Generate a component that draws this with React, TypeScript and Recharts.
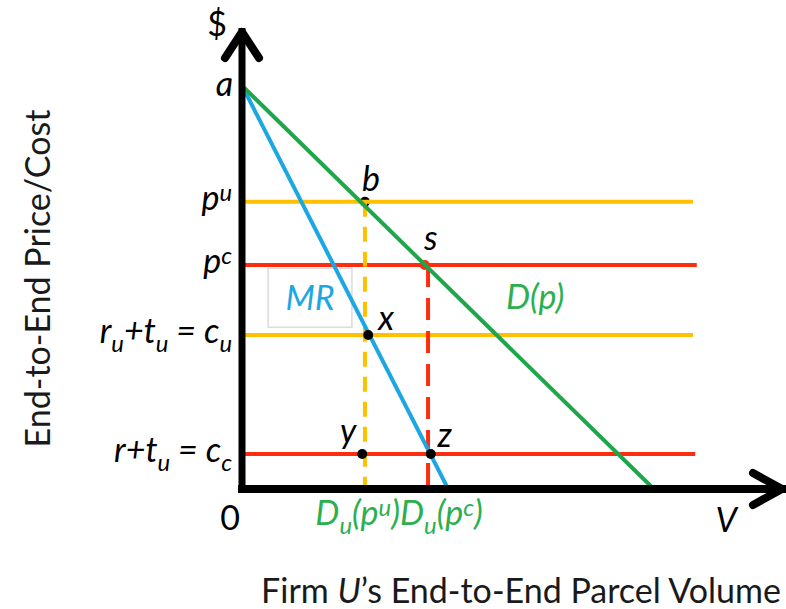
import React from 'react';
import { ComposedChart, Line, Scatter, XAxis, YAxis, ReferenceArea, ReferenceDot, Label } from 'recharts';

// ---------------- data ----------------
const demandVolumes = [0, 75.7];
const demandPrices = [87.5, 0];
const mrVolumes = [0, 37.9];
const mrPrices = [87.5, 0];

const levelNames = ['pu', 'pc', 'cu', 'cc'];
const levelPrices = [62.3, 48.6, 33.4, 7.6];
const levelEndVolumes = [82.9, 83.6, 82.9, 83.3];

const yTickValues = [100, 87.5, 62.3, 48.6, 33.4, 7.6];
const yTickLabels = ['$', 'a', 'p^u', 'p^c', 'r_u+t_u = c_u', 'r+t_u = c_c'];

const dropNames = ['pu', 'pc'];
const dropVolumes = [22.6, 34.2];
const dropTopPrices = [62.3, 48.6];

const xTickValues = [0, 22.6, 34.2, 89];
const xTickLabels = ['0', 'D_u(p^u)', 'D_u(p^c)', 'V'];

const pointNames = ['b', 's', 'x', 'y', 'z'];
const pointVolumes = [22.6, 33.6, 23.2, 22.1, 34.7];
const pointPrices = [62.3, 48.6, 33.4, 7.6, 7.6];

const mrBoxVolumes = [4.8, 20.2];
const mrBoxPrices = [35.1, 47.9];
const demandLabelVolume = 53.9;
const demandLabelPrice = 41.6;

// ---------------- styles ----------------
const FONT = "Lato, 'Open Sans', sans-serif";
const MATH = 34;
const TITLE = 34;
const GOLD = '#ffc000';
const RED = '#ff2d0f';
const GREEN = '#1fa64b';
const GREEN_TEXT = '#2cb04f';
const BLUE = '#1ca7e3';

const LEVEL_COLORS: Record<string, string> = { pu: GOLD, pc: RED, cu: GOLD, cc: RED };
const DROP_DASH: Record<string, string> = { pu: '15 10', pc: '22 11' };
const POINT_STYLE: Record<string, { dot: string | null; dx: number; dy: number }> = {
  b: { dot: '#000', dx: 6, dy: -11 },
  s: { dot: RED, dx: 6, dy: -15 },
  x: { dot: '#000', dx: 18, dy: -5 },
  y: { dot: '#000', dx: -14, dy: -11 },
  z: { dot: '#000', dx: 14, dy: -7 },
};
const UNDER_POINTS = ['b', 's'];

const Y_TICK_STYLE: Record<string, { dx: number; dy: number; anchor: string; italic: boolean }> = {
  $: { dx: -15, dy: 8, anchor: 'middle', italic: false },
  a: { dx: 1, dy: 10, anchor: 'end', italic: true },
};
const Y_TICK_DEFAULT = { dx: 0, dy: 8, anchor: 'end', italic: true };

const X_TICK_STYLE: Record<string, { dx: number; dy: number; anchor: string; italic: boolean; color: string }> = {
  '0': { dx: -12, dy: 41, anchor: 'middle', italic: false, color: '#000' },
  'D_u(p^u)': { dx: 35, dy: 36, anchor: 'end', italic: true, color: GREEN_TEXT },
  'D_u(p^c)': { dx: -28, dy: 36, anchor: 'start', italic: true, color: GREEN_TEXT },
  V: { dx: 0, dy: 43, anchor: 'middle', italic: true, color: '#000' },
};

// ---------------- derived tables ----------------
const demandData = demandVolumes.map((v, i) => ({ v, p: demandPrices[i] }));
const mrData = mrVolumes.map((v, i) => ({ v, p: mrPrices[i] }));
const levelSeries = levelNames.map((name, i) => ({
  name,
  data: [
    { v: 0, p: levelPrices[i] },
    { v: levelEndVolumes[i], p: levelPrices[i] },
  ],
}));
const dropSeries = dropNames.map((name, i) => ({
  name,
  data: [
    { v: dropVolumes[i], p: dropTopPrices[i] },
    { v: dropVolumes[i], p: 0 },
  ],
}));
const pointData = pointNames.map((name, i) => ({ name, v: pointVolumes[i], p: pointPrices[i] }));
const underPoints = pointData.filter((d) => UNDER_POINTS.includes(d.name));
const overPoints = pointData.filter((d) => !UNDER_POINTS.includes(d.name));

// ---------------- helpers ----------------
function mathSpans(src: string, size: number) {
  const segs: { t: string; lvl: number }[] = [];
  for (let i = 0; i < src.length; i++) {
    const c = src[i];
    if ((c === '^' || c === '_') && i + 1 < src.length) {
      segs.push({ t: src[i + 1], lvl: c === '^' ? 1 : -1 });
      i++;
    } else {
      const last = segs[segs.length - 1];
      if (last && last.lvl === 0) last.t += c;
      else segs.push({ t: c, lvl: 0 });
    }
  }
  let cur = 0;
  return segs.map((s, k) => {
    const target = s.lvl === 1 ? -0.26 * size : s.lvl === -1 ? 0.26 * size : 0;
    const dy = target - cur;
    cur = target;
    return (
      <tspan key={k} dy={dy !== 0 ? dy : undefined} fontSize={s.lvl !== 0 ? size * 0.7 : undefined}>
        {s.t}
      </tspan>
    );
  });
}

const YTick = (props: any) => {
  const { x, y, payload } = props;
  const i = yTickValues.indexOf(payload.value);
  const label = yTickLabels[i];
  if (label === undefined) return null;
  const st = Y_TICK_STYLE[label] || Y_TICK_DEFAULT;
  return (
    <text
      x={x + st.dx}
      y={y + st.dy}
      textAnchor={st.anchor as any}
      fontFamily={FONT}
      fontSize={MATH}
      fontStyle={st.italic ? 'italic' : 'normal'}
      fill="#000"
      style={{ whiteSpace: 'pre' }}
    >
      {mathSpans(label, MATH)}
    </text>
  );
};

const XTick = (props: any) => {
  const { x, y, payload } = props;
  const i = xTickValues.indexOf(payload.value);
  const label = xTickLabels[i];
  if (label === undefined) return null;
  const st = X_TICK_STYLE[label];
  return (
    <text
      x={x + st.dx}
      y={y + st.dy}
      textAnchor={st.anchor as any}
      fontFamily={FONT}
      fontSize={MATH}
      fontStyle={st.italic ? 'italic' : 'normal'}
      fill={st.color}
      style={{ whiteSpace: 'pre' }}
    >
      {mathSpans(label, MATH)}
    </text>
  );
};

const PointMark = (props: any) => {
  const { cx, cy, payload } = props;
  const st = POINT_STYLE[payload.name];
  return (
    <g>
      {st.dot && <circle cx={cx} cy={cy} r={5} fill={st.dot} />}
      <text
        x={cx + st.dx}
        y={cy + st.dy}
        textAnchor="middle"
        fontFamily={FONT}
        fontSize={MATH}
        fontStyle="italic"
        fill="#000"
      >
        {payload.name}
      </text>
    </g>
  );
};

const renderYTitle = (props: any) => {
  const vb = props.viewBox;
  const x = vb.x + 50;
  const y = vb.y + vb.height / 2 + 20;
  return (
    <text
      x={x}
      y={y}
      textAnchor="middle"
      transform={`rotate(-90, ${x}, ${y})`}
      fontFamily={FONT}
      fontSize={TITLE}
      fill="#1a1a1a"
    >
      End-to-End Price/Cost
    </text>
  );
};

const renderXTitle = (props: any) => {
  const vb = props.viewBox;
  const x = vb.x + vb.width / 2 + 7;
  const y = vb.y + 114;
  return (
    <text x={x} y={y} textAnchor="middle" fontFamily={FONT} fontSize={TITLE} fill="#1a1a1a" style={{ whiteSpace: 'pre' }}>
      <tspan>Firm </tspan>
      <tspan fontStyle="italic">U</tspan>
      <tspan>’s End-to-End Parcel Volume</tspan>
    </text>
  );
};

export default function App() {
  return (
    <div style={{ position: 'absolute', left: 0, top: 0, width: 786, height: 609, background: '#fff' }}>
      <svg width={0} height={0} style={{ position: 'absolute' }}>
        <defs>
          <marker
            id="arrowX"
            markerUnits="userSpaceOnUse"
            markerWidth={60}
            markerHeight={60}
            refX={40}
            refY={30}
            orient="auto"
            viewBox="0 0 60 60"
            overflow="visible"
          >
            <path d="M 7 14 L 36 30 L 7 46" fill="none" stroke="#000" strokeWidth={8} strokeLinecap="round" strokeLinejoin="round" />
          </marker>
          <marker
            id="arrowY"
            markerUnits="userSpaceOnUse"
            markerWidth={60}
            markerHeight={60}
            refX={40}
            refY={30}
            orient="auto-start-reverse"
            viewBox="0 0 60 60"
            overflow="visible"
          >
            <path d="M 10 13 L 36 30 L 10 47" fill="none" stroke="#000" strokeWidth={8} strokeLinecap="round" strokeLinejoin="round" />
          </marker>
        </defs>
      </svg>
      <ComposedChart width={786} height={609} margin={{ top: 28, right: 0, bottom: 0, left: 0 }}>
        <XAxis
          type="number"
          dataKey="v"
          domain={[0, 100]}
          allowDataOverflow
          ticks={xTickValues}
          interval={0}
          height={120}
          tickLine={false}
          tickSize={0}
          tickMargin={0}
          tick={<XTick />}
          axisLine={{ stroke: '#000', strokeWidth: 8, strokeLinecap: 'square', markerEnd: 'url(#arrowX)' } as any}
          label={<Label content={renderXTitle} />}
        />
        <YAxis
          type="number"
          dataKey="p"
          domain={[0, 100]}
          allowDataOverflow
          ticks={yTickValues}
          interval={0}
          width={242}
          tickLine={false}
          tickSize={0}
          tickMargin={10}
          tick={<YTick />}
          axisLine={{ stroke: '#000', strokeWidth: 7, markerStart: 'url(#arrowY)' } as any}
          label={<Label content={renderYTitle} />}
        />
        <ReferenceArea
          x1={mrBoxVolumes[0]}
          x2={mrBoxVolumes[1]}
          y1={mrBoxPrices[0]}
          y2={mrBoxPrices[1]}
          fill="#fff"
          fillOpacity={1}
          stroke="#dcdcdc"
          strokeWidth={1.5}
          ifOverflow="visible"
          label={{ value: 'MR', position: 'center', fill: BLUE, fontSize: MATH, fontStyle: 'italic', fontFamily: FONT } as any}
        />
        <Scatter
          data={underPoints}
          dataKey="p"
          shape={(p: any) => <PointMark {...p} />}
          isAnimationActive={false}
          {...({ zIndex: 350 } as any)}
        />
        {levelSeries.map((s) => (
          <Line
            key={s.name}
            data={s.data}
            dataKey="p"
            type="linear"
            stroke={LEVEL_COLORS[s.name]}
            strokeWidth={4}
            dot={false}
            activeDot={false}
            isAnimationActive={false}
            legendType="none"
          />
        ))}
        {dropSeries.map((s) => (
          <Line
            key={'drop-' + s.name}
            data={s.data}
            dataKey="p"
            type="linear"
            stroke={LEVEL_COLORS[s.name]}
            strokeWidth={4}
            strokeDasharray={DROP_DASH[s.name]}
            dot={false}
            activeDot={false}
            isAnimationActive={false}
            legendType="none"
          />
        ))}
        <Line data={mrData} dataKey="p" type="linear" stroke={BLUE} strokeWidth={4} dot={false} activeDot={false} isAnimationActive={false} />
        <Line data={demandData} dataKey="p" type="linear" stroke={GREEN} strokeWidth={4} dot={false} activeDot={false} isAnimationActive={false} />
        <Scatter data={overPoints} dataKey="p" shape={(p: any) => <PointMark {...p} />} isAnimationActive={false} />
        <ReferenceDot
          x={demandLabelVolume}
          y={demandLabelPrice}
          r={0}
          fill="none"
          stroke="none"
          ifOverflow="visible"
          label={{ value: 'D(p)', position: 'center', fill: GREEN_TEXT, fontSize: MATH, fontStyle: 'italic', fontFamily: FONT } as any}
        />
      </ComposedChart>
    </div>
  );
}
